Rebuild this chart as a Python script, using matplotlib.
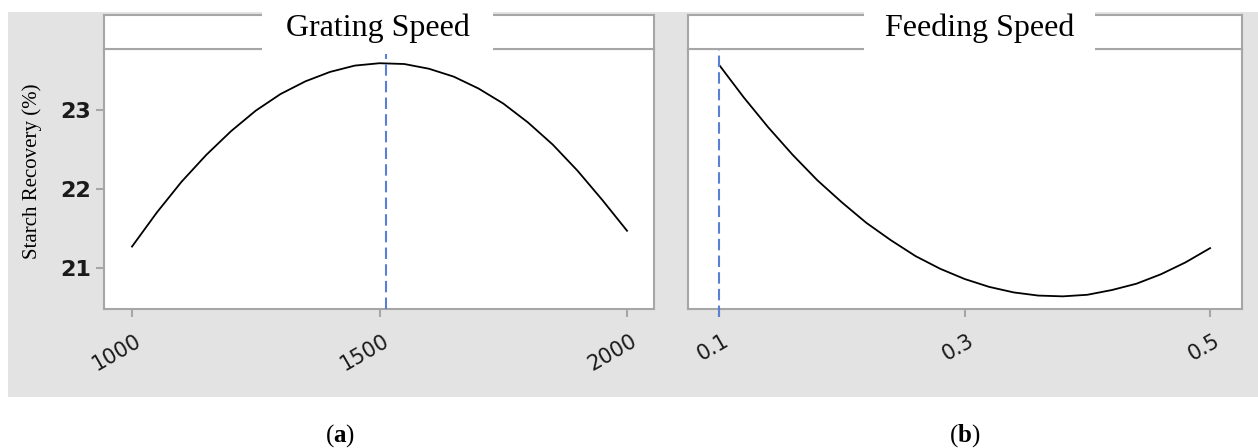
import matplotlib
matplotlib.use("Agg")
import matplotlib.pyplot as plt
from matplotlib.patches import Rectangle
from matplotlib.transforms import ScaledTranslation

# values
grating_speed = [1000, 1050, 1100, 1150, 1200, 1250, 1300, 1350, 1400, 1450, 1500,
                 1550, 1600, 1650, 1700, 1750, 1800, 1850, 1900, 1950, 2000]
recovery_a = [21.27, 21.70, 22.09, 22.43, 22.73, 22.99, 23.20, 23.36, 23.48, 23.56, 23.59,
              23.58, 23.52, 23.42, 23.27, 23.08, 22.84, 22.56, 22.23, 21.86, 21.47]
feeding_speed = [0.10, 0.12, 0.14, 0.16, 0.18, 0.20, 0.22, 0.24, 0.26, 0.28, 0.30,
                 0.32, 0.34, 0.36, 0.38, 0.40, 0.42, 0.44, 0.46, 0.48, 0.50]
recovery_b = [23.57, 23.16, 22.78, 22.43, 22.11, 21.83, 21.57, 21.35, 21.15, 20.99, 20.86,
              20.76, 20.69, 20.65, 20.64, 20.66, 20.72, 20.80, 20.92, 21.07, 21.25]
optimum = [1514, 0.1]
titles = ["Grating Speed", "Feeding Speed"]
panel_tags = ["a", "b"]
xticks_a = [1000, 1500, 2000]
xticks_b = [0.1, 0.3, 0.5]
xticklabels_b = ["0.1", "0.3", "0.5"]
yticks = [21, 22, 23]

plt.rcParams["mathtext.fontset"] = "custom"
plt.rcParams["mathtext.rm"] = "Liberation Serif"
plt.rcParams["mathtext.bf"] = "Liberation Serif:bold"

W, H = 1258, 448
fig = plt.figure(figsize=(W / 100, H / 100), dpi=100)


def box(x0, y0, x1, y1):
    # pixel box (top-left origin) -> figure fraction rect
    return [x0 / W, 1 - y1 / H, (x1 - x0) / W, (y1 - y0) / H]


grey = "#a6a6a6"
bg = box(8, 12, 1258, 397)
fig.patches.append(Rectangle((bg[0], bg[1]), bg[2], bg[3], transform=fig.transFigure,
                             facecolor="#e3e3e3", edgecolor="none", zorder=-5))

panels = [(104, 654), (688, 1242)]
title_boxes = [(262, 493), (864, 1095)]
tag_x = [340, 965]

xs = [grating_speed, feeding_speed]
ys = [recovery_a, recovery_b]
xlims = [(943.4, 2054.5), (0.0747, 0.526)]

for i, (x0, x1) in enumerate(panels):
    ax = fig.add_axes(box(x0, 49, x1, 309))
    ax.set_facecolor("white")
    ax.plot(xs[i], ys[i], color="black", lw=1.3, zorder=2)
    ext = -0.03 if i == 1 else 0
    ax.axvline(optimum[i], ymin=ext, ymax=1, color="#5b7fd4", lw=1.5,
               dashes=(5.5, 2.5), clip_on=False, zorder=3)
    ax.set_xlim(*xlims[i])
    ax.set_ylim(20.48, 23.77)
    ax.set_yticks(yticks)
    if i == 0:
        ax.set_xticks(xticks_a)
        ax.set_xticklabels([str(v) for v in xticks_a])
        ax.set_yticklabels([str(v) for v in yticks], fontsize=16, fontweight="bold",
                           color="#1a1a1a")
    else:
        ax.set_xticks(xticks_b)
        ax.set_xticklabels(xticklabels_b)
        ax.tick_params(axis="y", left=False, labelleft=False)
    for s in ax.spines.values():
        s.set_color(grey)
        s.set_linewidth(1.5)
    ax.tick_params(direction="out", length=6, width=1.5, color=grey)
    ax.tick_params(axis="x", pad=9.5)
    ax.tick_params(axis="y", pad=3.5)
    shift = ScaledTranslation(3 / 100, 0, fig.dpi_scale_trans)
    for lab in ax.get_xticklabels():
        lab.set_rotation(30)
        lab.set_ha("right")
        lab.set_va("top")
        lab.set_rotation_mode("anchor")
        lab.set_fontsize(15)
        lab.set_color("#1a1a1a")
        lab.set_transform(lab.get_transform() + shift)

    # facet strip above the panel
    strip = fig.add_axes(box(x0, 15, x1, 49))
    strip.set_facecolor("white")
    strip.set_xticks([])
    strip.set_yticks([])
    for s in strip.spines.values():
        s.set_color(grey)
        s.set_linewidth(1.5)

    tb = box(title_boxes[i][0], 0, title_boxes[i][1], 54)
    fig.patches.append(Rectangle((tb[0], tb[1]), tb[2], tb[3], transform=fig.transFigure,
                                 facecolor="white", edgecolor="none", zorder=10))
    fig.text((title_boxes[i][0] + title_boxes[i][1]) / 2 / W, 1 - 36 / H, titles[i],
             ha="center", va="baseline", fontsize=23, family="Liberation Serif", zorder=11)
    fig.text(tag_x[i] / W, 1 - 436 / H, r"($\mathbf{%s}$)" % panel_tags[i],
             ha="center", va="center", fontsize=18, family="Liberation Serif")

fig.text(32 / W, 1 - 171.5 / H, "Starch Recovery (%)", rotation=90, ha="center",
         va="center", fontsize=15, family="Liberation Serif")

fig.savefig("out.png", dpi=100)
